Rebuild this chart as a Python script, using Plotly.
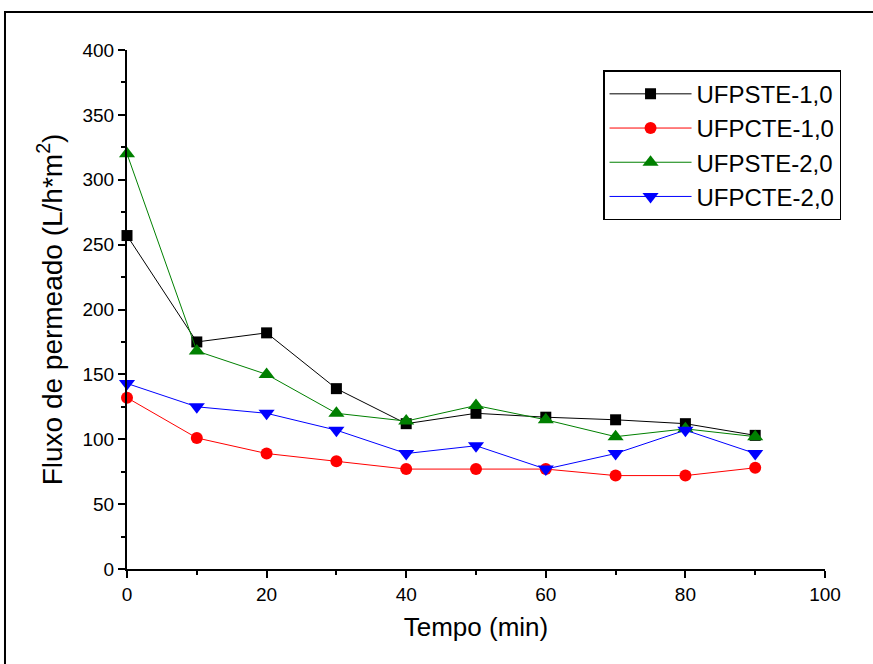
import plotly.graph_objects as go

tempo = [0, 10, 20, 30, 40, 50, 60, 70, 80, 90]
ufpste_10 = [257, 175, 182, 139, 112, 120, 117, 115, 112, 103]
ufpcte_10 = [132, 101, 89, 83, 77, 77, 77, 72, 72, 78]
ufpste_20 = [320, 168, 150, 120, 114, 126, 115, 102, 108, 102]
ufpcte_20 = [143, 125, 120, 107, 89, 95, 77, 89, 107, 89]

series = [
    ("UFPSTE-1,0", ufpste_10, "black", "square", 11),
    ("UFPCTE-1,0", ufpcte_10, "red", "circle", 12),
    ("UFPSTE-2,0", ufpste_20, "green", "triangle-up", 14),
    ("UFPCTE-2,0", ufpcte_20, "blue", "triangle-down", 14),
]

fig = go.Figure()
for name, vals, col, sym, sz in series:
    fig.add_trace(go.Scatter(
        x=tempo, y=vals, name=name, mode="lines+markers",
        line=dict(color=col, width=1),
        marker=dict(symbol=sym, size=sz, color=col),
        cliponaxis=False,
    ))

tickfont = dict(family="Liberation Sans, Arial", size=19, color="black")

fig.update_layout(
    width=873, height=664,
    margin=dict(l=127, r=48, t=50, b=95),
    paper_bgcolor="white", plot_bgcolor="white",
    font=dict(family="Liberation Sans, Arial", color="black"),
    xaxis=dict(
        range=[0, 100], tickmode="linear", tick0=0, dtick=20,
        showgrid=False, zeroline=False,
        showline=True, linecolor="black", linewidth=2,
        ticks="outside", ticklen=7, tickwidth=1.5, tickcolor="black",
        minor=dict(dtick=10, ticks="outside", ticklen=4, tickwidth=1.5, tickcolor="black"),
        tickfont=tickfont,
        title=dict(text="Tempo (min)", font=dict(size=26), standoff=14),
    ),
    yaxis=dict(
        range=[0, 400], tickmode="linear", tick0=0, dtick=50,
        showgrid=False, zeroline=False,
        showline=True, linecolor="black", linewidth=2,
        ticks="outside", ticklen=7, tickwidth=1.5, tickcolor="black",
        minor=dict(dtick=25, ticks="outside", ticklen=4, tickwidth=1.5, tickcolor="black"),
        tickfont=tickfont,
        title=dict(text="Fluxo de permeado (L/h*m<sup>2</sup>)", font=dict(size=28), standoff=12),
    ),
    legend=dict(
        x=0.682, y=0.961, xanchor="left", yanchor="top",
        bordercolor="black", borderwidth=1.5, bgcolor="white",
        font=dict(size=24), itemwidth=82, tracegroupgap=0,
        entrywidth=268, entrywidthmode="pixels",
    ),
    shapes=[dict(type="rect", xref="paper", yref="paper",
                 x0=-0.1748, x1=1.2, y0=-0.3, y1=1.0732,
                 line=dict(color="black", width=2))],
)

fig.write_html("out.html", config={"displayModeBar": False},
               post_script="document.body.style.margin='0';document.body.style.overflow='hidden';")
